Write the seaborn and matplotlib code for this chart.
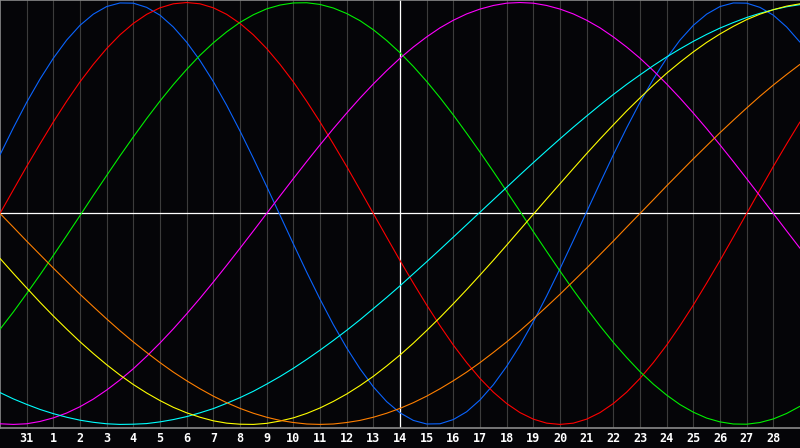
import matplotlib
matplotlib.use("Agg")
import matplotlib.pyplot as plt
import seaborn as sns
import pandas as pd

# positions in half-day steps: 0 = the 30th of the previous month, 15 = today (14th)
DAYS = [d / 2 for d in range(61)]
TICK_POS = list(range(1, 30))
TICK_LABELS = ["31"] + [str(d) for d in range(1, 29)]
TODAY = 15

physical = [0.278, 0.406, 0.527, 0.637, 0.736, 0.822, 0.892, 0.945, 0.981, 0.998,
            0.997, 0.977, 0.940, 0.884, 0.812, 0.725, 0.625, 0.513, 0.391, 0.262,
            0.128, -0.008, -0.144, -0.278, -0.406, -0.527, -0.637, -0.736, -0.822, -0.892,
            -0.945, -0.981, -0.998, -0.997, -0.977, -0.940, -0.884, -0.812, -0.725, -0.625,
            -0.513, -0.391, -0.262, -0.128, 0.008, 0.144, 0.278, 0.406, 0.527, 0.637,
            0.736, 0.822, 0.892, 0.945, 0.981, 0.998, 0.997, 0.977, 0.940, 0.884,
            0.812]
emotional = [0.0, 0.112, 0.223, 0.330, 0.434, 0.532, 0.624, 0.707, 0.782, 0.847,
             0.901, 0.944, 0.975, 0.994, 1.0, 0.994, 0.975, 0.944, 0.901, 0.847,
             0.782, 0.707, 0.624, 0.532, 0.434, 0.330, 0.223, 0.112, 0.0, -0.112,
             -0.223, -0.330, -0.434, -0.532, -0.624, -0.707, -0.782, -0.847, -0.901, -0.944,
             -0.975, -0.994, -1.0, -0.994, -0.975, -0.944, -0.901, -0.847, -0.782, -0.707,
             -0.624, -0.532, -0.434, -0.330, -0.223, -0.112, 0.0, 0.112, 0.223, 0.330,
             0.434]
intellectual = [-0.549, -0.467, -0.380, -0.291, -0.199, -0.105, -0.010, 0.086, 0.180, 0.273,
                0.363, 0.450, 0.533, 0.611, 0.683, 0.750, 0.809, 0.861, 0.906, 0.942,
                0.970, 0.988, 0.998, 0.999, 0.991, 0.974, 0.948, 0.914, 0.871, 0.820,
                0.762, 0.697, 0.626, 0.549, 0.467, 0.380, 0.291, 0.199, 0.105, 0.010,
                -0.086, -0.180, -0.273, -0.363, -0.450, -0.533, -0.611, -0.683, -0.750, -0.809,
                -0.861, -0.906, -0.942, -0.970, -0.988, -0.998, -0.999, -0.991, -0.974, -0.948,
                -0.914]
intuitive = [-0.997, -1.0, -0.997, -0.986, -0.969, -0.946, -0.916, -0.880, -0.837, -0.789,
             -0.736, -0.677, -0.614, -0.547, -0.476, -0.402, -0.325, -0.246, -0.165, -0.083,
             0.0, 0.083, 0.165, 0.246, 0.325, 0.402, 0.476, 0.547, 0.614, 0.677,
             0.736, 0.789, 0.837, 0.880, 0.916, 0.946, 0.969, 0.986, 0.997, 1.0,
             0.997, 0.986, 0.969, 0.946, 0.916, 0.880, 0.837, 0.789, 0.736, 0.677,
             0.614, 0.547, 0.476, 0.402, 0.325, 0.246, 0.165, 0.083, 0.0, -0.083,
             -0.165]
spiritual = [-0.849, -0.879, -0.905, -0.929, -0.949, -0.966, -0.980, -0.990, -0.997, -1.0,
             -0.999, -0.996, -0.988, -0.977, -0.963, -0.945, -0.925, -0.900, -0.873, -0.843,
             -0.809, -0.773, -0.734, -0.692, -0.648, -0.602, -0.554, -0.504, -0.451, -0.398,
             -0.343, -0.286, -0.229, -0.171, -0.112, -0.053, 0.006, 0.065, 0.124, 0.183,
             0.241, 0.298, 0.354, 0.409, 0.462, 0.514, 0.564, 0.612, 0.657, 0.701,
             0.742, 0.780, 0.816, 0.849, 0.879, 0.905, 0.929, 0.949, 0.966, 0.980,
             0.990]
aesthetic = [-0.213, -0.284, -0.353, -0.421, -0.486, -0.548, -0.608, -0.664, -0.717, -0.766,
             -0.811, -0.851, -0.887, -0.919, -0.945, -0.966, -0.983, -0.994, -0.999, -1.0,
             -0.995, -0.984, -0.969, -0.948, -0.922, -0.891, -0.856, -0.816, -0.772, -0.723,
             -0.671, -0.615, -0.555, -0.493, -0.428, -0.361, -0.292, -0.222, -0.150, -0.077,
             -0.004, 0.069, 0.141, 0.213, 0.284, 0.353, 0.420, 0.486, 0.548, 0.608,
             0.665, 0.717, 0.766, 0.811, 0.851, 0.887, 0.919, 0.945, 0.966, 0.983,
             0.994]
awareness = [0.0, -0.065, -0.131, -0.195, -0.259, -0.321, -0.383, -0.442, -0.5, -0.556,
             -0.609, -0.659, -0.707, -0.752, -0.793, -0.831, -0.866, -0.897, -0.924, -0.947,
             -0.966, -0.981, -0.991, -0.998, -1.0, -0.998, -0.991, -0.981, -0.966, -0.947,
             -0.924, -0.897, -0.866, -0.831, -0.793, -0.752, -0.707, -0.659, -0.609, -0.556,
             -0.5, -0.442, -0.383, -0.321, -0.259, -0.195, -0.131, -0.065, 0.0, 0.065,
             0.131, 0.195, 0.259, 0.321, 0.383, 0.442, 0.5, 0.556, 0.609, 0.659,
             0.707]

series = {
    "physical": physical,
    "emotional": emotional,
    "intellectual": intellectual,
    "intuitive": intuitive,
    "spiritual": spiritual,
    "aesthetic": aesthetic,
    "awareness": awareness,
}
palette = {
    "physical": "#0a64ff",
    "emotional": "#ff0000",
    "intellectual": "#00f000",
    "intuitive": "#ff00ff",
    "spiritual": "#00ffff",
    "aesthetic": "#ffff00",
    "awareness": "#ff7f00",
}

df = pd.DataFrame([
    {"day": d, "value": v, "cycle": name}
    for name, vals in series.items() for d, v in zip(DAYS, vals)
])

sns.set_style("dark")
plt.rcParams["font.family"] = ["DejaVu Sans Mono", "DejaVu Sans"]

fig = plt.figure(figsize=(8, 4.48), dpi=100, facecolor="#050508")
ax = fig.add_axes([0, 20 / 448, 1, 428 / 448])
ax.set_facecolor("#050508")

# day grid
for p in TICK_POS:
    ax.axvline(p, color="#3c3c3c", lw=0.8, zorder=1)

ax.axhline(0, color="white", lw=0.9, zorder=2)
ax.axvline(TODAY, color="white", lw=0.9, zorder=2)

sns.lineplot(data=df, x="day", y="value", hue="cycle", palette=palette,
             estimator=None, sort=False, legend=False, lw=0.8, ax=ax, zorder=3)

ax.set_xlim(0, 30)
ax.set_ylim(-1.017, 1.012)
ax.set_xticks(TICK_POS)
ax.set_xticklabels(TICK_LABELS, color="white", fontweight="bold", fontsize=8.5)
ax.tick_params(axis="x", length=0, pad=3)
ax.set_yticks([])
ax.set_xlabel("")
ax.set_ylabel("")
ax.grid(False)
for side in ["top", "left", "bottom"]:
    ax.spines[side].set_visible(True)
    ax.spines[side].set_color("#8a8a8a")
    ax.spines[side].set_linewidth(1.2)
ax.spines["right"].set_visible(False)

fig.savefig("out.png", dpi=100, facecolor=fig.get_facecolor())
